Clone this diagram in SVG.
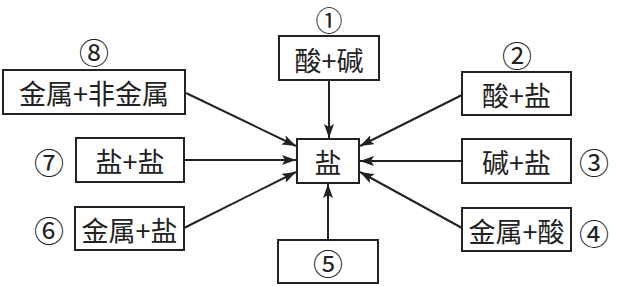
<svg xmlns="http://www.w3.org/2000/svg" width="617" height="286" viewBox="0 0 617 286">
<style>
.box{fill:#fff;stroke:#222;stroke-width:2}
.t{font-family:"Noto Sans CJK SC","Noto Sans",sans-serif;font-size:27px;fill:#222;text-anchor:middle;dominant-baseline:central}
.n{font-family:"Noto Sans CJK SC","DejaVu Sans",sans-serif;font-size:30px;fill:#222;text-anchor:middle;dominant-baseline:central}
.n1{font-size:27px}
.c{stroke:#222;stroke-width:2;fill:none;marker-end:url(#ah)}
</style>
<defs>
<marker id="ah" viewBox="0 0 14 10" refX="14" refY="5" markerWidth="14" markerHeight="10" markerUnits="userSpaceOnUse" orient="auto">
<path d="M0,0 L14,5 L0,10 L3,5 Z" fill="#222"/>
</marker>
</defs>
<rect width="617" height="286" fill="#fff"/>
<g id="connectors">
<line class="c" x1="329" y1="80" x2="329" y2="138"/>
<line class="c" x1="186" y1="93" x2="296" y2="146"/>
<line class="c" x1="462" y1="95" x2="360" y2="146"/>
<line class="c" x1="462" y1="161" x2="360" y2="161"/>
<line class="c" x1="462" y1="228" x2="360" y2="172"/>
<line class="c" x1="184" y1="160" x2="296" y2="160"/>
<line class="c" x1="184" y1="228" x2="296" y2="172"/>
<line class="c" x1="328" y1="240" x2="328" y2="184"/>
</g>
<g id="center"><rect class="box" x="297" y="139" width="62" height="44"/><text class="t" x="328" y="161">盐</text></g>
<g id="n1"><rect class="box" x="279" y="36" width="100" height="44"/><text class="t" x="329" y="59">酸+碱</text><text class="n n1" x="329" y="19.5">①</text></g>
<g id="n2"><rect class="box" x="462" y="72" width="109" height="43"/><text class="t" x="516.5" y="94">酸+盐</text><text class="n" x="517" y="54">②</text></g>
<g id="n3"><rect class="box" x="462" y="139" width="109" height="44"/><text class="t" x="516.5" y="161">碱+盐</text><text class="n" x="594" y="161">③</text></g>
<g id="n4"><rect class="box" x="462" y="208" width="109" height="43"/><text class="t" x="516.5" y="230">金属+酸</text><text class="n" x="594" y="232">④</text></g>
<g id="n5"><rect class="box" x="278" y="240" width="100" height="43"/><text class="n" x="328" y="262">⑤</text></g>
<g id="n6"><rect class="box" x="75" y="207" width="109" height="43"/><text class="t" x="129.5" y="229">金属+盐</text><text class="n" x="49" y="229">⑥</text></g>
<g id="n7"><rect class="box" x="76" y="138" width="108" height="44"/><text class="t" x="130" y="160">盐+盐</text><text class="n" x="49" y="161">⑦</text></g>
<g id="n8"><rect class="box" x="3" y="70" width="182" height="44"/><text class="t" x="94" y="92">金属+非金属</text><text class="n" x="94" y="51">⑧</text></g>
</svg>
